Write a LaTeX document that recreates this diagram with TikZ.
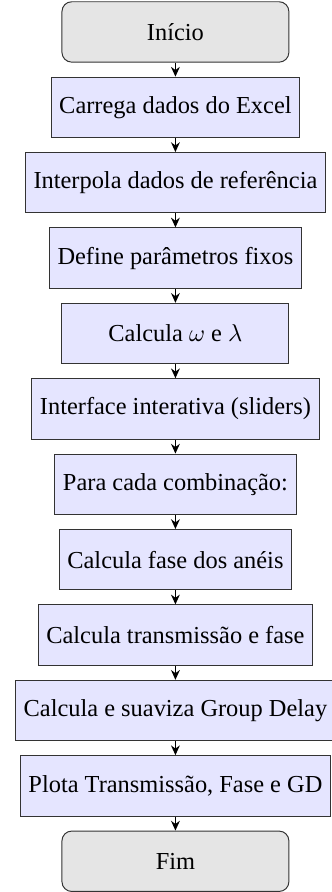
\documentclass[tikz,border=0pt]{standalone}
\usepackage{fontspec}
\setmainfont{Liberation Serif}
\usetikzlibrary{positioning,arrows.meta}
\begin{document}
\begin{tikzpicture}[node distance=5.75pt, >={Stealth[length=4pt,width=3.6pt]}, thin,
  start node/.style={rectangle,rounded corners=4pt,draw=black!80,fill=gray!20,minimum width=93pt,minimum height=24.75pt},
  step node/.style={rectangle,draw=black!80,fill=blue!10,minimum width=93pt,minimum height=24.75pt}]%
\useasboundingbox (-71.9pt,13.1pt) rectangle (63.8pt,-352.5pt);
\begin{scope}
\node[start node] (inicio) at (0,0) {Início};
\node[step node, below=of inicio] (carrega) {Carrega dados do Excel};
\node[step node, below=of carrega] (interpola) {Interpola dados de referência};
\node[step node, below=of interpola] (define) {Define parâmetros fixos};
\node[step node, below=of define] (calcula) {Calcula $\omega$ e $\lambda$};
\node[step node, below=of calcula] (interface) {Interface interativa (sliders)};
\node[step node, below=of interface] (para) {Para cada combinação:};
\node[step node, below=of para] (fase) {Calcula fase dos anéis};
\node[step node, below=of fase] (transm) {Calcula transmissão e fase};
\node[step node, below=of transm] (delay) {Calcula e suaviza Group Delay};
\node[step node, below=of delay] (plota) {Plota Transmissão, Fase e GD};
\node[start node, below=of plota] (fim) {Fim};
\end{scope}
\begin{scope}[semithick]
\foreach \a/\b in {inicio/carrega, carrega/interpola, interpola/define, define/calcula,
  calcula/interface, interface/para, para/fase, fase/transm, transm/delay, delay/plota, plota/fim}
  \draw[->] (\a) -- (\b);
\end{scope}
\end{tikzpicture}
\end{document}
